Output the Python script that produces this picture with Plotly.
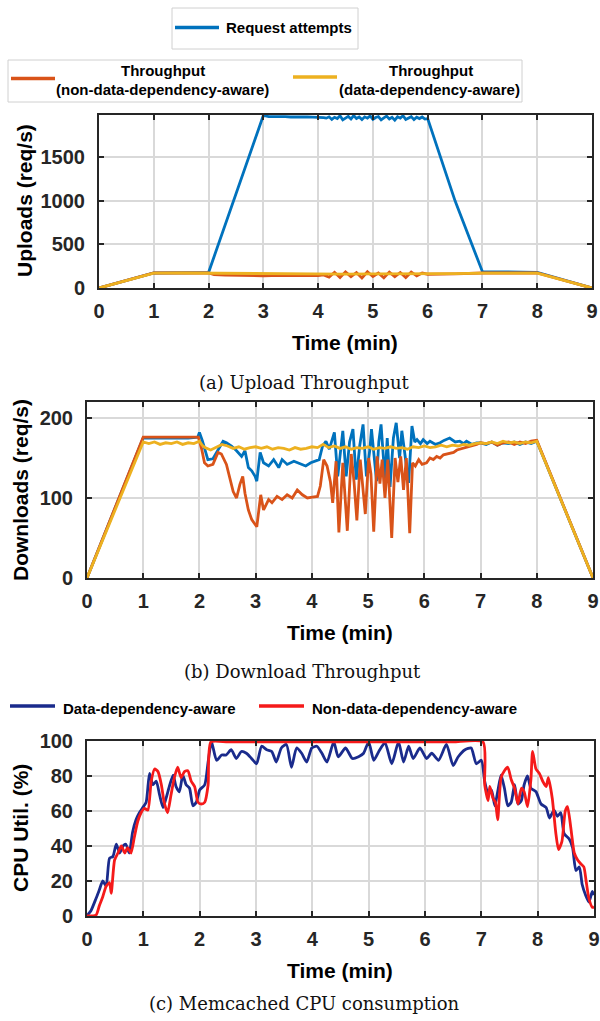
import plotly.graph_objects as go

W, H = 600, 1021

# ---------------- DATA ----------------
# (a) Upload throughput (req/s)
ta_req = [0, 1, 2, 3, 3.1, 3.2, 3.3, 3.4, 3.5, 3.6, 3.7, 3.8, 3.9, 4.0, 4.1,
          4.15, 4.2, 4.25, 4.3, 4.35, 4.4, 4.45, 4.5, 4.55, 4.6, 4.65, 4.7, 4.75,
          4.8, 4.85, 4.9, 4.95, 5.0, 5.05, 5.1, 5.15, 5.2, 5.25, 5.3, 5.35, 5.4,
          5.45, 5.5, 5.55, 5.6, 5.65, 5.7, 5.75, 5.8, 5.85, 5.9, 5.95, 6.0, 6.5, 7, 8, 9]
va_req = [0, 172, 178, 1980, 1966, 1968, 1964, 1966, 1962, 1965, 1961, 1963, 1960, 1962, 1956,
          1949, 1964, 1934, 1959, 1944, 1976, 1929, 1954, 1969, 1939, 1979, 1944, 1962,
          1932, 1964, 1949, 1974, 1934, 1956, 1966, 1929, 1952, 1972, 1939, 1959, 1926,
          1964, 1949, 1976, 1934, 1954, 1966, 1932, 1959, 1944, 1962, 1939, 1944, 1000, 187, 180, 0]

ta_non = [0, 1, 2, 2.1, 2.3, 2.5, 2.8, 3.0, 3.3, 3.6, 4.0, 4.1, 4.2, 4.3, 4.4, 4.5, 4.6,
          4.7, 4.8, 4.9, 5.0, 5.1, 5.2, 5.3, 5.4, 5.5, 5.6, 5.7, 5.8, 5.9, 6.0, 6.5, 7, 8, 9]
va_non = [0, 172, 172, 155, 148, 145, 142, 140, 144, 141, 143, 150, 125, 180, 120, 185, 130,
          178, 115, 186, 132, 172, 118, 182, 130, 178, 120, 184, 140, 172, 158, 162, 172, 172, 0]

ta_aware = [0, 1, 1.5, 2, 2.2, 2.6, 3.0, 3.5, 4.0, 4.5, 5.0, 5.5, 6.0, 6.5, 7, 7.5, 8, 9]
va_aware = [0, 170, 172, 170, 162, 160, 161, 159, 162, 160, 163, 161, 164, 165, 170, 171, 170, 0]

# (b) Download throughput (req/s)
tb_req = [0, 1, 1.2, 1.5, 1.8, 1.97, 2.0, 2.05, 2.09, 2.15, 2.24, 2.33, 2.42, 2.48, 2.57, 2.66,
          2.75, 2.81, 2.87, 2.93, 2.99, 3.02, 3.08, 3.14, 3.23, 3.32, 3.41, 3.47, 3.56, 3.68,
          3.8, 3.89, 3.98, 4.07, 4.13, 4.19, 4.25, 4.31, 4.4, 4.46, 4.55, 4.61, 4.67, 4.73,
          4.79, 4.85, 4.91, 4.97, 5.03, 5.06, 5.15, 5.19, 5.23, 5.3, 5.34, 5.39, 5.45, 5.5,
          5.56, 5.6, 5.66, 5.72, 5.78, 5.83, 5.87, 5.93, 5.98, 6.05, 6.1, 6.2, 6.28, 6.35,
          6.45, 6.55, 6.63, 6.7, 6.75, 6.85, 6.93, 7.0, 7.1, 7.2, 7.3, 7.4, 7.5, 7.6, 7.7,
          7.8, 7.9, 8.0, 9]
vb_req = [0, 175, 175, 175, 175, 176, 182, 172, 161, 148, 149, 161, 171, 169, 165, 159,
          152, 159, 138, 134, 127, 121, 157, 144, 140, 148, 138, 148, 142, 146,
          142, 140, 144, 146, 148, 165, 171, 161, 182, 127, 184, 127, 170, 186,
          123, 165, 192, 127, 160, 186, 121, 170, 192, 123, 175, 114, 175, 194,
          150, 184, 150, 119, 190, 170, 173, 168, 173, 168, 171, 167, 169, 172,
          175, 170, 171, 168, 171, 167, 169, 169, 167, 170, 166, 169, 168, 170, 167,
          170, 168, 171, 0]

tb_non = [0, 1, 1.5, 1.98, 2.04, 2.09, 2.15, 2.24, 2.33, 2.39, 2.48, 2.54, 2.6, 2.66, 2.72,
          2.77, 2.81, 2.87, 2.93, 3.02, 3.05, 3.09, 3.14, 3.23, 3.29, 3.38, 3.47, 3.56, 3.65,
          3.74, 3.83, 3.92, 4.01, 4.1, 4.15, 4.21, 4.27, 4.33, 4.37, 4.43, 4.48, 4.55, 4.63,
          4.7, 4.75, 4.8, 4.86, 4.9, 4.95, 5.01, 5.05, 5.1, 5.16, 5.21, 5.25, 5.3, 5.35,
          5.42, 5.48, 5.53, 5.58, 5.63, 5.68, 5.74, 5.79, 5.84, 5.9, 5.96, 6.04, 6.1, 6.16,
          6.22, 6.28, 6.34, 6.4, 6.46, 6.52, 6.58, 6.63, 6.69, 6.75, 6.81, 6.87, 6.93, 7.0,
          7.1, 7.2, 7.3, 7.4, 7.5, 7.6, 7.7, 7.8, 7.9, 8.0, 9]
vb_non = [0, 176, 176, 176, 161, 144, 140, 142, 157, 155, 142, 123, 108, 100, 117,
          127, 106, 85, 73, 64, 79, 104, 85, 98, 94, 102, 98, 104, 100,
          110, 104, 100, 101, 102, 115, 148, 140, 120, 94, 146, 57, 144, 59,
          155, 120, 72, 148, 120, 80, 150, 130, 58, 152, 118, 148, 100, 148,
          50, 150, 120, 152, 110, 150, 56, 144, 140, 148, 142, 144, 150, 148,
          152, 150, 154, 155, 156, 157, 160, 161, 162, 163, 164, 165, 167, 169,
          168, 170, 166, 169, 170, 167, 170, 168, 171, 172, 0]

tb_aware = [0, 1.0, 1.1, 1.2, 1.3, 1.4, 1.5, 1.6, 1.7, 1.8, 1.9, 2.0, 2.05, 2.1, 2.2, 2.3, 2.4,
            2.5, 2.6, 2.7, 2.8, 2.9, 3.0, 3.1, 3.2, 3.3, 3.4, 3.5, 3.6, 3.7, 3.8, 3.9, 4.0,
            4.1, 4.2, 4.3, 4.4, 4.5, 4.6, 4.7, 4.8, 4.9, 5.0, 5.1, 5.2, 5.3, 5.4, 5.5, 5.6,
            5.7, 5.8, 5.9, 6.0, 6.1, 6.2, 6.3, 6.4, 6.5, 6.6, 6.7, 6.8, 6.9, 7.0, 7.1, 7.2,
            7.3, 7.4, 7.5, 7.6, 7.7, 7.8, 7.9, 8.0, 9]
vb_aware = [0, 170, 168, 170, 167, 169, 168, 170, 167, 169, 168, 171, 166, 163, 160, 163, 167,
            165, 162, 164, 161, 163, 164, 162, 164, 161, 163, 162, 160, 163, 161, 162, 164,
            163, 167, 163, 165, 162, 164, 161, 163, 162, 164, 161, 163, 162, 164, 162, 163,
            161, 164, 163, 165, 163, 164, 166, 164, 166, 165, 167, 166, 168, 169, 168, 170,
            168, 171, 169, 170, 168, 170, 169, 171, 0]

# (c) Memcached CPU utilisation (%)
tc_aware = [0.0, 0.01, 0.07, 0.16, 0.22, 0.28, 0.34, 0.40, 0.46, 0.52, 0.58, 0.64, 0.69, 0.75,
            0.81, 0.87, 0.93, 0.99, 1.05, 1.11, 1.17, 1.23, 1.29, 1.35, 1.41, 1.47, 1.53, 1.58,
            1.64, 1.70, 1.76, 1.82, 1.88, 1.94, 2.00, 2.09, 2.15, 2.21, 2.30, 2.39, 2.47, 2.56,
            2.65, 2.74, 2.83, 2.92, 3.01, 3.10, 3.19, 3.28, 3.36, 3.45, 3.54, 3.63, 3.72, 3.81,
            3.90, 3.99, 4.08, 4.17, 4.26, 4.38, 4.46, 4.59, 4.71, 4.82, 4.91, 5.0, 5.09, 5.18,
            5.29, 5.41, 5.53, 5.62, 5.71, 5.79, 5.91, 6.03, 6.12, 6.24, 6.38, 6.50, 6.59, 6.71,
            6.82, 6.91, 7.0, 7.06, 7.12, 7.18, 7.24, 7.29, 7.35, 7.41, 7.47, 7.53, 7.59, 7.65,
            7.71, 7.76, 7.82, 7.88, 7.97, 8.06, 8.15, 8.21, 8.29, 8.35, 8.41, 8.47, 8.56, 8.62,
            8.68, 8.74, 8.79, 8.85, 8.91, 8.97, 9.0]
vc_aware = [0, 0.5, 3, 10, 15, 20, 17, 33, 34, 41, 36, 40, 41, 36,
            48, 55, 59, 62, 65, 81.5, 75, 77, 69, 62, 68, 75, 80.5, 74,
            71, 80.5, 75, 73, 63, 65, 72, 75, 88, 99.5, 89, 92, 92, 95,
            90, 94, 93, 90, 87, 97, 95, 94, 88, 96, 98, 85, 96, 93,
            88, 96, 97, 93, 88, 99.5, 91, 96, 90, 91, 93, 99.5, 89, 94,
            99, 87, 99.5, 88, 97, 90, 96, 90, 93, 89, 98, 86, 91, 95,
            96, 87, 89, 77, 70, 72, 63, 71, 80.5, 73, 63, 65, 75, 64,
            66, 75, 80, 73, 71, 64, 62, 56, 60.5, 57, 59, 47, 44, 39,
            26, 28, 18, 12, 8, 14, 12]

tc_non = [0.0, 0.16, 0.22, 0.28, 0.34, 0.40, 0.43, 0.49, 0.55, 0.61, 0.67, 0.72, 0.78, 0.84,
          0.90, 0.96, 1.02, 1.08, 1.14, 1.20, 1.26, 1.32, 1.37, 1.43, 1.49, 1.55, 1.61, 1.67,
          1.73, 1.79, 1.85, 1.91, 1.97, 2.03, 2.09, 2.15, 2.20, 2.5, 3.0, 3.5, 4.0, 4.5, 5.0,
          5.5, 6.0, 6.5, 7.03, 7.06, 7.12, 7.15, 7.21, 7.25, 7.29, 7.35, 7.41, 7.47, 7.53,
          7.59, 7.65, 7.71, 7.76, 7.82, 7.88, 7.91, 7.97, 8.03, 8.09, 8.15, 8.19, 8.26, 8.32,
          8.37, 8.43, 8.49, 8.53, 8.59, 8.65, 8.71, 8.76, 8.82, 8.86, 8.91, 8.97, 9.0]
vc_non = [0, 0.5, 6, 11, 17, 19, 13, 32, 36, 40, 36, 39, 36, 45,
          54, 59, 61.5, 60.5, 77, 84, 82.5, 75, 65, 59, 69, 79, 85, 79,
          82.5, 83, 77, 74, 65, 64, 65, 75, 99.5, 99.5, 99.5, 99.5, 99.5, 99.5, 99.5,
          99.5, 99.5, 99.5, 99.5, 75, 66, 74, 67, 65, 55, 79, 83, 85, 78,
          73, 64, 73, 71, 62.5, 78, 94, 84, 81.5, 77, 74, 79, 67, 48,
          38, 42.5, 60, 62.5, 50, 36, 32, 30, 28, 20, 10, 5, 5]

# tick values
x_ticks = [0, 1, 2, 3, 4, 5, 6, 7, 8, 9]
ya_ticks = [0, 500, 1000, 1500]
yb_ticks = [0, 100, 200]
yc_ticks = [0, 20, 40, 60, 80, 100]

# ---------------- STYLE ----------------
C_BLUE, C_ORANGE, C_YELLOW = "#0072BD", "#D95319", "#EDB120"
C_NAVY, C_RED = "#1a2b8c", "#f51a1a"
AX = "#262626"
GRID = "#d9d9d9"
SANS = "Liberation Sans, Arial, sans-serif"
SERIF = "DejaVu Serif, serif"


def fx(p):
    return p / W


def fy(p):
    return 1 - p / H


fig = go.Figure()


def add(x, y, color, ax, shape="linear"):
    fig.add_trace(go.Scatter(x=x, y=y, mode="lines", showlegend=False, hoverinfo="skip",
                             line=dict(color=color, width=2.8, shape=shape, smoothing=0.6),
                             xaxis="x" + ax, yaxis="y" + ax))


add(ta_req, va_req, C_BLUE, "")
add(ta_non, va_non, C_ORANGE, "")
add(ta_aware, va_aware, C_YELLOW, "")
add(tb_req, vb_req, C_BLUE, "2")
add(tb_non, vb_non, C_ORANGE, "2")
add(tb_aware, vb_aware, C_YELLOW, "2")
add(tc_aware, vc_aware, C_NAVY, "3", "spline")
add(tc_non, vc_non, C_RED, "3", "spline")

tickfont = dict(family=SANS, size=20, color=AX, weight="bold")
common = dict(showline=True, linecolor=AX, linewidth=2, mirror="ticks", ticks="inside",
              ticklen=5, tickwidth=2, tickcolor=AX, showgrid=True, gridcolor=GRID,
              gridwidth=1.5, zeroline=False, tickfont=tickfont, fixedrange=True,
              automargin=False)


def xax(px0, px1, anchor):
    return dict(domain=[fx(px0), fx(px1)], range=[0, 9], tickvals=x_ticks, anchor=anchor,
                ticklabelstandoff=4, **common)


def yax(py0, py1, rng, tv, anchor):
    return dict(domain=[fy(py1), fy(py0)], range=rng, tickvals=tv, anchor=anchor,
                ticklabelstandoff=8, **common)


fig.update_layout(
    width=W, height=H, autosize=False, margin=dict(l=0, r=0, t=0, b=0, pad=0),
    paper_bgcolor="white", plot_bgcolor="white",
    xaxis=xax(99, 592, "y"), yaxis=yax(115, 288, [0, 1985], ya_ticks, "x"),
    xaxis2=xax(87, 593, "y2"), yaxis2=yax(402, 578, [0, 220], yb_ticks, "x2"),
    xaxis3=xax(87, 594, "y3"), yaxis3=yax(741, 916, [0, 100], yc_ticks, "x3"),
)

anns = []
shapes = []


def text(x, y, s, size=15, anchor="center", font=SANS, bold=True, angle=0):
    anns.append(dict(x=fx(x), y=fy(y), xref="paper", yref="paper", text=s, showarrow=False,
                     xanchor=anchor, yanchor="middle", textangle=angle,
                     font=dict(family=font, size=size, color="black" if bold else "#111",
                               weight="bold" if bold else "normal")))


def line(x0, x1, y, color, w=3.5):
    shapes.append(dict(type="line", xref="paper", yref="paper", x0=fx(x0), x1=fx(x1),
                       y0=fy(y), y1=fy(y), line=dict(color=color, width=w)))


def box(x0, x1, y0, y1):
    shapes.append(dict(type="rect", xref="paper", yref="paper", x0=fx(x0), x1=fx(x1),
                       y0=fy(y1), y1=fy(y0), line=dict(color="#d0d0d0", width=1),
                       fillcolor="white", layer="below"))


# legends for (a)/(b)
box(172, 358, 8, 49)
line(175, 219, 27.5, C_BLUE)
text(224, 27.5, "Request attempts", 15, "left")
box(8, 522, 60, 102)
line(11, 55, 78.5, C_ORANGE)
text(163, 71, "Throughput", 15)
text(162, 89, "(non-data-dependency-aware)", 15)
line(293, 337, 77, C_YELLOW)
text(431, 71, "Throughput", 15)
text(429, 89, "(data-dependency-aware)", 15)

# legend for (c)
line(10, 55, 706, C_NAVY)
text(61, 708, "Data-dependency-aware", 15, "left")
line(259, 304, 706, C_RED)
text(310, 708, "Non-data-dependency-aware", 15, "left")

# axis titles
text(24, 201, "Uploads (req/s)", 21, angle=-90)
text(345, 342, "Time (min)", 21)
text(20, 490, "Downloads (req/s)", 21, angle=-90)
text(340, 632, "Time (min)", 21)
text(20, 828, "CPU Util. (%)", 21, angle=-90)
text(340, 970, "Time (min)", 21)

# captions
text(304, 382, "(a) Upload Throughput", 18, font=SERIF, bold=False)
text(302, 671, "(b) Download Throughput", 18, font=SERIF, bold=False)
text(304, 1003, "(c) Memcached CPU consumption", 18, font=SERIF, bold=False)

fig.update_layout(annotations=anns, shapes=shapes)

fig.write_html("out.html", config={"displayModeBar": False},
               post_script="document.body.style.margin='0';")
